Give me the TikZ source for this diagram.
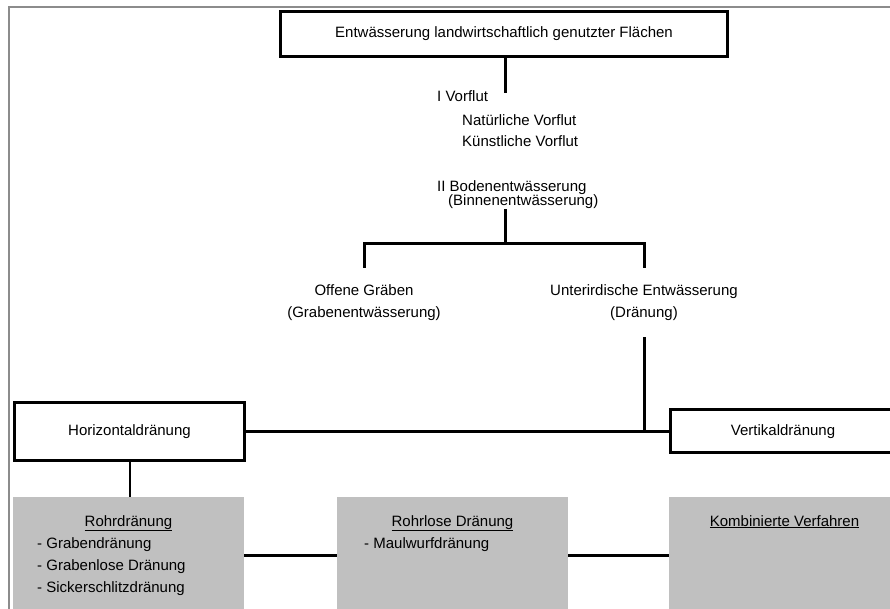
\documentclass[tikz,border=0pt]{standalone}
\usepackage{fontspec}
\setmainfont{Liberation Sans}
\usetikzlibrary{positioning}
\definecolor{framegray}{HTML}{8C8C8C}
\definecolor{boxgray}{HTML}{C0C0C0}
\tikzset{
  txt/.style={inner sep=0pt, text height=11pt, text depth=3pt, font=\fontsize{15}{18}\selectfont},
  heading/.style={txt, draw, line width=3pt},
  graybox/.style={fill=boxgray, inner sep=0pt, minimum width=231pt, minimum height=116pt},
  link/.style={line width=3pt},
}

\begin{document}
\begin{tikzpicture}[x=1pt,y=-1pt]
                   \clip (0,0) rectangle (890,609);
                   \draw[framegray, line width=2pt] (9,609) -- (9,7) -- (890,7);
                   % top
                   \node[heading, minimum width=447pt, minimum height=45pt] (d_top) at (504,34) {Entwässerung landwirtschaftlich genutzter Flächen};
                   \node[txt, anchor=west] (d_vorflut) at (437,98) {I Vorflut};
                   \node[txt, anchor=west] (d_natur) at (462,122) {Natürliche Vorflut};
                   \node[txt, anchor=west] (d_kuenst) at (462,143) {Künstliche Vorflut};
                   \node[txt, anchor=west] (d_boden) at (437,188) {II Bodenentwässerung};
                   \node[txt, anchor=west] (d_binnen) at (448,202) {(Binnenentwässerung)};
                   \coordinate (d_vorend) at (505,93);
                   \coordinate (d_branch) at (505,244);
                   \draw[link] (d_top.south -| d_vorend) -- (d_vorend);
                   \draw[link] (d_branch |- d_binnen.south) -- (d_branch);
                   % Bodenentwaesserung
                   \node[txt] (d_offen) at (364,291) {Offene Gräben};
                   \node[txt] (d_graben) at (364,313) {(Grabenentwässerung)};
                   \node[txt] (d_unter) at (644,291) {Unterirdische Entwässerung};
                   \node[txt] (d_draen) at (644,313) {(Dränung)};
                   \draw[link] ([yshift=16pt]d_offen.north) |- (d_branch) -| ([yshift=16pt]d_unter.north);
                   % Draenung
                   \node[heading, minimum width=230pt, minimum height=58pt] (d_horiz) at (129.5,431) {Horizontaldränung};
                   \node[heading, minimum width=225pt, minimum height=43pt] (d_vert) at (783,431) {Vertikaldränung};
                   \coordinate (d_join) at (d_unter |- d_vert);
                   \draw[link] ([yshift=-17pt]d_draen.south) -- (d_join);
                   \draw[link] (d_horiz.east) -- (d_vert.west);
                   % Verfahren
                   \node[graybox] (d_rohr) at (128.5,555) {};
                   \node[graybox] (d_rohrlos) at (452.5,555) {};
                   \node[graybox] (d_komb) at (784.5,555) {};
                   \draw[line width=2pt] (d_horiz.south) -- (d_horiz.south |- d_rohr.north);
                   \draw[link] (d_rohr) -- (d_rohrlos);
                   \draw[link] (d_rohrlos) -- (d_komb);
                   \node[txt, below=18pt of d_rohr.north] (d_rohrtitle) {\underline{Rohrdränung}};
                   \node[txt, below=18pt of d_rohrlos.north] (d_rohrlostitle) {\underline{Rohrlose Dränung}};
                   \node[txt, below=18pt of d_komb.north] (d_kombtitle) {\underline{Kombinierte Verfahren}};
                   \node[txt, anchor=west] (d_graben1) at (37,544) {- Grabendränung};
                   \node[txt, anchor=west] (d_graben2) at (37,566) {- Grabenlose Dränung};
                   \node[txt, anchor=west] (d_graben3) at (37,588) {- Sickerschlitzdränung};
                   \node[txt, anchor=west] (d_maulwurf) at (364,544) {- Maulwurfdränung};
                \end{tikzpicture}
\end{document}
